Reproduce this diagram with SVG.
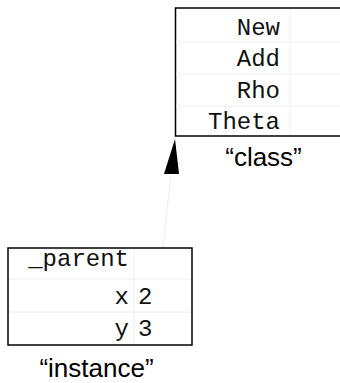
<svg xmlns="http://www.w3.org/2000/svg" width="340" height="383" viewBox="0 0 340 383">
<style>
.box{fill:#fff;stroke:#000;stroke-width:1.5}
.sep{stroke:#eee;stroke-width:1;fill:none}
.mono{font-family:"Liberation Mono",monospace;font-size:24px;fill:#111}
.lbl{font-family:"Liberation Sans",Arial,sans-serif;font-size:26px;fill:#000;text-anchor:middle}
.r{text-anchor:end}
</style>
<g id="connectors">
<line x1="161" y1="266" x2="171" y2="174" stroke="#eee" stroke-width="1"/>
<polygon points="175,139 164,174 179,174" fill="#000"/>
</g>
<g id="class">
<rect class="box" x="175.5" y="8" width="180" height="128"/>
<line class="sep" x1="176" y1="42" x2="340" y2="42"/>
<line class="sep" x1="176" y1="74" x2="340" y2="74"/>
<line class="sep" x1="176" y1="106" x2="340" y2="106"/>
<line class="sep" x1="290" y1="9" x2="290" y2="135"/>
<text class="mono r" x="280" y="35">New</text>
<text class="mono r" x="280" y="66">Add</text>
<text class="mono r" x="280" y="98">Rho</text>
<text class="mono r" x="280" y="129">Theta</text>
<text class="lbl" x="263.5" y="166">“class”</text>
</g>
<g id="instance">
<rect class="box" x="8" y="248" width="184" height="97"/>
<line class="sep" x1="9" y1="279" x2="191" y2="279"/>
<line class="sep" x1="9" y1="312" x2="191" y2="312"/>
<line class="sep" x1="134" y1="249" x2="134" y2="344"/>
<text class="mono r" x="129" y="266">_parent</text>
<text class="mono r" x="129" y="304">x</text>
<text class="mono" x="138" y="304">2</text>
<text class="mono r" x="129" y="336">y</text>
<text class="mono" x="138" y="336">3</text>
<text class="lbl" x="96.5" y="377">“instance”</text>
</g>
</svg>
